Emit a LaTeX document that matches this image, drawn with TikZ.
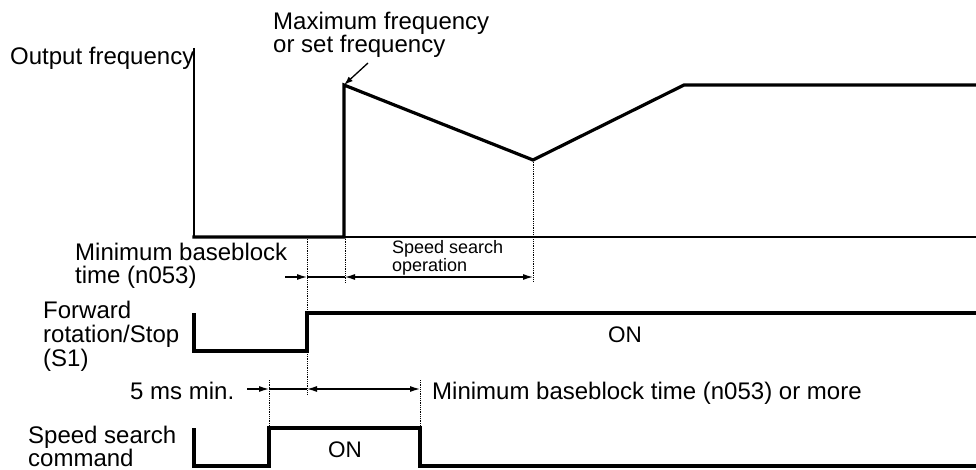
\documentclass[tikz,border=0pt]{standalone}
\usepackage{fontspec}
\setmainfont{Liberation Sans}
\usetikzlibrary{arrows.meta}
\begin{document}
\begin{tikzpicture}[x=1pt,y=-1pt,
  lbl/.style={anchor=base west, inner sep=0pt, font=\fontsize{24}{24}\selectfont},
  small/.style={anchor=base west, inner sep=0pt, font=\fontsize{18}{18}\selectfont},
  onlbl/.style={anchor=base, inner sep=0pt, font=\fontsize{22.5}{22}\selectfont},
  wave/.style={line width=3.2pt, line join=miter, line cap=rect},
  axis/.style={line width=2.2pt},
  guide/.style={line width=0.8pt, densely dotted},
  dim/.style={line width=1.2pt},
  tip/.style={-{Latex[length=10pt,width=6pt]}},
  dtip/.style={{Latex[length=10pt,width=6pt]}-{Latex[length=10pt,width=6pt]}}]
\useasboundingbox (0,0) rectangle (976,470);

% ---------- key points ----------
\coordinate (axtop) at (194,48);
\coordinate (axorg) at (194,237);
\coordinate (axend) at (976,237);
\coordinate (jump) at (344,237);
\coordinate (peak) at (344,85);
\coordinate (valley) at (533,160);
\coordinate (reach) at (684,85);
\coordinate (fend) at (976,85);

% ---------- output frequency ----------
\draw[axis] (axtop) -- (axorg) -- (axend);
\draw[wave] (axorg) -- (jump) -- (peak) -- (valley) -- (reach) -- (fend);

\node[lbl] (of) at (10,65) {Output frequency};
\node[lbl] (mf1) at (273,30) {Maximum frequency};
\node[lbl] (mf2) at (273,53) {or set frequency};
\coordinate (mfa) at (368,63);
\draw[line width=1.3pt, -{Latex[length=9pt,width=6pt]}] (mfa) -- (peak);

% ---------- guides ----------
\coordinate (g1t) at (307,237);  \coordinate (g1b) at (307,395);
\coordinate (g2t) at (345,237);  \coordinate (g2b) at (345,283);
\coordinate (g3t) at (533,160);  \coordinate (g3b) at (533,281);
\coordinate (g4t) at (269,380);  \coordinate (g4b) at (269,428);
\coordinate (g5t) at (420,380);  \coordinate (g5b) at (420,428);
\foreach \a/\b in {g1t/g1b,g2t/g2b,g3t/g3b,g4t/g4b,g5t/g5b}
  \draw[guide] (\a) -- (\b);

% ---------- minimum baseblock / speed search operation ----------
\node[lbl] (mb1) at (75,260) {Minimum baseblock};
\node[lbl] (mb2) at (75,283) {time (n053)};
\node[small] (so1) at (392,253) {Speed search};
\node[small] (so2) at (392,271) {operation};
\coordinate (a1s) at (285,277);
\coordinate (a1e) at (307,277);
\coordinate (a2s) at (345,277);
\coordinate (a2e) at (533,277);
\draw[dim, tip] (a1s) -- (a1e);
\draw[dim] (a1e) -- (a2s);
\draw[dim, dtip] (a2s) -- (a2e);

% ---------- forward rotation / stop ----------
\node[lbl] (fr1) at (43,318) {Forward};
\node[lbl] (fr2) at (43,342) {rotation/Stop};
\node[lbl] (fr3) at (43,366) {(S1)};
\coordinate (s1a) at (194,313);
\coordinate (s1b) at (194,351);
\coordinate (s1c) at (307,351);
\coordinate (s1d) at (307,313);
\coordinate (s1e) at (976,313);
\draw[wave, line cap=butt] (s1a) -- (s1b) -- (s1c) -- (s1d) -- (s1e);
\node[onlbl] (on1) at (625,342) {ON};

% ---------- 5 ms min. ----------
\node[lbl] (fm) at (130,399) {5 ms min.};
\node[lbl] (mbm) at (432,399) {Minimum baseblock time (n053) or more};
\coordinate (b1s) at (247,389);
\coordinate (b1e) at (269,389);
\coordinate (b2s) at (307,389);
\coordinate (b2e) at (420,389);
\draw[dim, tip] (b1s) -- (b1e);
\draw[dim] (b1e) -- (b2s);
\draw[dim, dtip] (b2s) -- (b2e);

% ---------- speed search command ----------
\node[lbl] (sc1) at (28,443) {Speed search};
\node[lbl] (sc2) at (28,466) {command};
\coordinate (c1) at (194,428);
\coordinate (c2) at (194,466);
\coordinate (c3) at (269,466);
\coordinate (c4) at (269,428);
\coordinate (c5) at (420,428);
\coordinate (c6) at (420,466);
\coordinate (c7) at (976,466);
\draw[wave, line cap=butt] (c1) -- (c2) -- (c3) -- (c4) -- (c5) -- (c6) -- (c7);
\node[onlbl] (on2) at (345,457) {ON};
\end{tikzpicture}
\end{document}
